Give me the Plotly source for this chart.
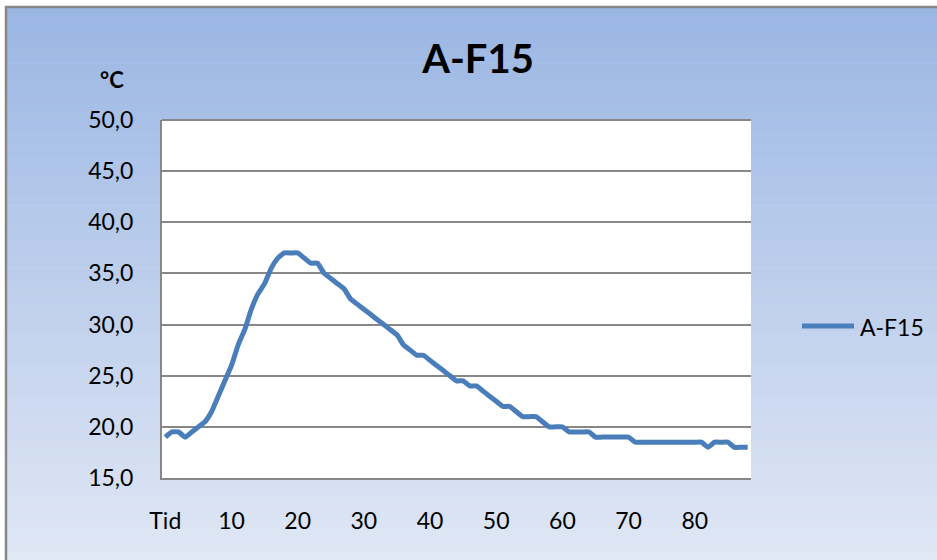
import plotly.graph_objects as go

# ---- data ----
series_name = "A-F15"
temps = [19, 19.5, 19.5, 19, 19.5, 20, 20.5, 21.5, 23, 24.5,
         26, 28, 29.5, 31.5, 33, 34, 35.5, 36.5, 37, 37,
         37, 36.5, 36, 36, 35, 34.5, 34, 33.5, 32.5, 32,
         31.5, 31, 30.5, 30, 29.5, 29, 28, 27.5, 27, 27,
         26.5, 26, 25.5, 25, 24.5, 24.5, 24, 24, 23.5, 23,
         22.5, 22, 22, 21.5, 21, 21, 21, 20.5, 20, 20,
         20, 19.5, 19.5, 19.5, 19.5, 19, 19, 19, 19, 19,
         19, 18.5, 18.5, 18.5, 18.5, 18.5, 18.5, 18.5, 18.5, 18.5,
         18.5, 18.5, 18, 18.5, 18.5, 18.5, 18, 18, 18]
x_idx = list(range(len(temps)))
tick_positions = [0, 10, 20, 30, 40, 50, 60, 70, 80]
tick_labels = ["Tid", "10", "20", "30", "40", "50", "60", "70", "80"]
y_range = [15, 50]

# ---- layout geometry (pixels) ----
W, H = 937, 560
PL, PR, PT, PB = 162, 751, 120, 478
FONT = "Lato, 'Open Sans', sans-serif"
LINE_COLOR = "#4a7ebb"

def px_x(px):
    return (px - PL) / (PR - PL)

def px_y(py):
    return (PB - py) / (PB - PT)

fig = go.Figure()
fig.add_trace(go.Scatter(
    x=x_idx, y=temps, mode="lines", name=series_name, showlegend=False,
    line=dict(color=LINE_COLOR, width=5, shape="spline", smoothing=0.4),
))

# gradient background bands (chart area)
shapes = []
top_c = (154, 182, 227)
bot_c = (224, 231, 245)
y0, y1 = 8, 560
n = 70
for i in range(n):
    a = y0 + (y1 - y0) * i / n
    b = y0 + (y1 - y0) * (i + 1) / n + 0.6
    t = (i + 0.5) / n
    c = tuple(round(top_c[k] + (bot_c[k] - top_c[k]) * t) for k in range(3))
    shapes.append(dict(type="rect", xref="paper", yref="paper",
                       x0=px_x(7), x1=px_x(W + 5), y0=px_y(a), y1=px_y(b),
                       fillcolor="rgb(%d,%d,%d)" % c, line=dict(width=0),
                       layer="below"))
# white plot area
shapes.append(dict(type="rect", xref="paper", yref="paper",
                   x0=0, x1=1, y0=0, y1=1, fillcolor="white",
                   line=dict(width=0), layer="below"))
# top border of plot area
shapes.append(dict(type="line", xref="paper", yref="paper",
                   x0=0, x1=1, y0=1, y1=1,
                   line=dict(color="#878787", width=2), layer="below"))
# outer chart border
shapes.append(dict(type="line", xref="paper", yref="paper",
                   x0=px_x(5), x1=px_x(W + 5), y0=px_y(7), y1=px_y(7),
                   line=dict(color="#878787", width=2.5), layer="below"))
shapes.append(dict(type="line", xref="paper", yref="paper",
                   x0=px_x(6), x1=px_x(6), y0=px_y(6), y1=px_y(H + 5),
                   line=dict(color="#878787", width=2.5), layer="below"))
# legend key line
shapes.append(dict(type="line", xref="paper", yref="paper",
                   x0=px_x(802), x1=px_x(854), y0=px_y(326), y1=px_y(326),
                   line=dict(color=LINE_COLOR, width=5)))

fig.update_layout(
    width=W, height=H,
    margin=dict(l=PL, r=W - PR, t=PT, b=H - PB, pad=0),
    paper_bgcolor="white",
    plot_bgcolor="white",
    separators=", ",
    font=dict(family=FONT, size=23, color="black"),
    shapes=shapes,
    showlegend=False,
    title=dict(text="<b>A-F15</b>", x=px_x(478), xref="paper", xanchor="center",
               y=1 - 59 / H, yanchor="middle",
               font=dict(family=FONT, size=40, color="black")),
    annotations=[
        dict(text="<b>°C</b>", xref="paper", yref="paper",
             x=px_x(112), y=px_y(79), showarrow=False,
             xanchor="center", yanchor="middle",
             font=dict(family=FONT, size=22, color="black")),
        dict(text=series_name, xref="paper", yref="paper",
             x=px_x(858), y=px_y(327), showarrow=False,
             xanchor="left", yanchor="middle",
             font=dict(family=FONT, size=23, color="black")),
    ],
    xaxis=dict(range=[-0.5, len(temps) - 0.5], tickmode="array",
               tickvals=tick_positions, ticktext=tick_labels,
               showgrid=False, zeroline=False, showline=True,
               linecolor="#878787", linewidth=2, ticks="",
               ticklabelstandoff=21,
               tickfont=dict(family=FONT, size=23, color="black")),
    yaxis=dict(range=y_range, dtick=5, tickformat=".1f",
               showgrid=True, gridcolor="#878787", gridwidth=1.5,
               zeroline=False, showline=True, linecolor="#878787",
               linewidth=2, ticks="", ticklabelstandoff=22,
               tickfont=dict(family=FONT, size=23, color="black")),
)

fig.write_html("out.html")
